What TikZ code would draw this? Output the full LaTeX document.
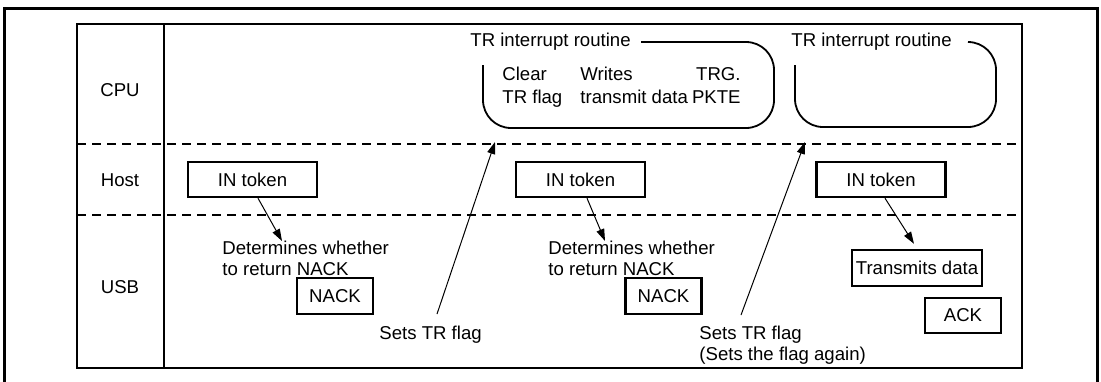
\documentclass[tikz,border=0pt]{standalone}
\usepackage{fontspec}
\setmainfont{Liberation Sans}
\usepackage{tikz}
\usetikzlibrary{arrows.meta}

\begin{document}
\begin{tikzpicture}[
  x=0.5pt,y=-0.5pt,
  >={Triangle[length=6pt,width=4pt]},
  every node/.style={font=\fontsize{9.3}{10.5}\selectfont},
  pkt/.style={draw,line width=1.2pt,inner sep=0pt,minimum height=17.5pt,align=center},
  txt/.style={inner sep=0pt,align=left,anchor=north west},
  lane/.style={line width=1pt,dash pattern=on 4.5pt off 3pt},
  rtn/.style={line width=0.9pt,rounded corners=14pt},
  lnk/.style={->,line width=0.5pt}
]
\useasboundingbox (0,0) rectangle (1101,381);

%% frames and lanes
\draw[line width=1.5pt] (4,395) -- (4,8) -- (1097,8) -- (1097,395);
\draw[line width=1.1pt] (77,24) rectangle (1022,368);
\draw[line width=0.7pt] (164,24) -- (164,368);
\draw[lane] (77,144) -- (1022,144);
\draw[lane] (77,215) -- (1022,215);

\node (cpu)  at (120,90)  {CPU};
\node (host) at (120,180) {Host};
\node (usb)  at (120,287) {USB};

%% CPU lane
\node[anchor=west,inner sep=0pt] (rt1) at (470,42) {TR interrupt routine};
\draw[rtn] ([xshift=5pt]rt1.east) -| (774,128) -| (483,65);
\node[txt,font=\fontsize{9.3}{11.5}\selectfont] (clr) at (502,67) {Clear\\TR flag};
\node[txt,font=\fontsize{9.3}{11.5}\selectfont] (wrt) at (580,67) {Writes\\transmit data};
\node[txt,font=\fontsize{9.3}{11.5}\selectfont,align=right,anchor=north east] (trg) at (741,67) {TRG.\\PKTE};

\node[anchor=west,inner sep=0pt] (rt2) at (791,42) {TR interrupt routine};
\draw[rtn] ([xshift=8pt]rt2.east) -| (996,127) -| (795,65);

%% Host lane
\node[pkt,minimum width=64.5pt] (tok1) at (252.5,179.5) {IN token};
\node[pkt,minimum width=64.5pt] (tok2) at (580.5,179.5) {IN token};
\node[pkt,minimum width=64.5pt] (tok3) at (881,179.5)   {IN token};

%% USB lane
\node[txt] (det1) at (222,241) {Determines whether\\to return NACK};
\node[txt] (det2) at (548,241) {Determines whether\\to return NACK};
\node[pkt,minimum width=38pt,minimum height=18pt] (nack1) at (335,296)   {NACK};
\node[pkt,minimum width=38pt,minimum height=18pt] (nack2) at (663.5,296) {NACK};
\node[pkt,minimum width=65pt,minimum height=18pt] (trans) at (917,268)   {Transmits data};
\node[pkt,minimum width=38pt] (ack) at (963,315.5) {ACK};

\node[txt] (set1) at (379,326) {Sets TR flag};
\node[txt] (set2) at (699,326) {Sets TR flag\\(Sets the flag again)};

%% Arrows
\coordinate (hit1) at (495,142);
\coordinate (hit2) at (805,142);
\draw[lnk] ([xshift=2.75pt]tok1.south) -- ([xshift=30pt]det1.north west);
\draw[lnk] ([xshift=3.25pt]tok2.south) -- ([xshift=28.5pt]det2.north west);
\draw[lnk] ([xshift=2pt]tok3.south) -- ([shift={(-1.5pt,2.5pt)}]trans.north);
\draw[lnk] ([shift={(29pt,6pt)}]set1.north west) -- (hit1);
\draw[lnk] ([shift={(21pt,5.5pt)}]set2.north west) -- (hit2);

\end{tikzpicture}
\end{document}
